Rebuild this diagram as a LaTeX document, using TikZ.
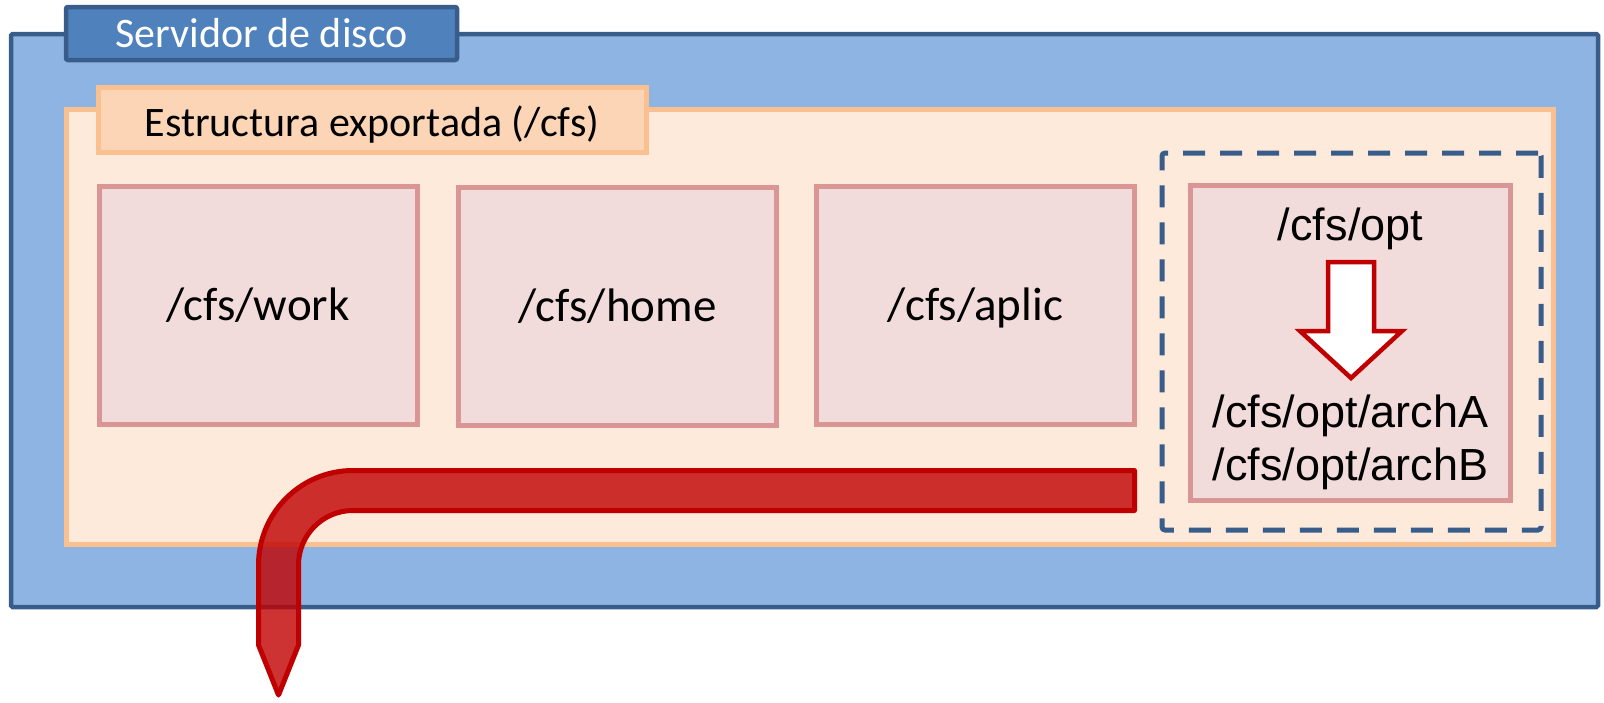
\documentclass[tikz,border=0pt]{standalone}
\usepackage{fontspec}
\newfontfamily\calfont{Carlito}
\newfontfamily\arialfont{Liberation Sans}
\definecolor{srvfill}{HTML}{8EB4E3}
\definecolor{srvline}{HTML}{385D8A}
\definecolor{srvtab}{HTML}{4F81BD}
\definecolor{expfill}{HTML}{FDEADA}
\definecolor{expline}{HTML}{FAC090}
\definecolor{exptab}{HTML}{FBD5B5}
\definecolor{dirfill}{HTML}{F2DCDB}
\definecolor{dirline}{HTML}{D99694}
\definecolor{arrred}{HTML}{C00000}

\begin{document}
\begin{tikzpicture}[x=1pt,y=-1pt,
  panel/.style={rectangle, inner sep=0pt, outer sep=0pt},
  dirbox/.style={panel, draw=dirline, fill=dirfill, line width=5pt,
    minimum width=318pt, minimum height=238pt},
  dirlabel/.style={anchor=base, inner sep=0pt, font=\calfont\fontsize{47}{56}\selectfont},
  optlabel/.style={anchor=base, inner sep=0pt, font=\arialfont\fontsize{45}{53}\selectfont},
  tablabel/.style={anchor=base, inner sep=0pt, font=\calfont\fontsize{42}{50}\selectfont}
]
\useasboundingbox (0,0) rectangle (1604,702);

% disk server frame and its title tab
\node[panel, draw=srvline, fill=srvfill, line width=4.5pt, rounded corners=1.5pt,
  minimum width=1587pt, minimum height=573pt] (server) at (804.5,320.5) {};
\node[panel, draw=srvline, fill=srvtab, line width=4.5pt, rounded corners=2pt,
  minimum width=391pt, minimum height=53pt] (servertab) at (261.5,33.5) {};
\node[tablabel, text=white] (servertitle) at (261.5,47) {Servidor de disco};

% exported tree and its title tab
\node[panel, draw=expline, fill=expfill, line width=5pt,
  minimum width=1487pt, minimum height=435pt] (export) at (809.5,326.5) {};
\node[panel, draw=expline, fill=exptab, line width=5pt,
  minimum width=548pt, minimum height=65pt] (exporttab) at (372,120) {};
\node[tablabel] (exporttitle) at (372,136.5) {Estructura exportada (/cfs)};

% exported directories
\node[dirbox] (work)  at (258,305.5) {};
\node[dirbox] (home)  at (617.5,306.5) {};
\node[dirbox] (aplic) at (975.5,305.5) {};
\node[dirlabel] (workT)  at (258,320) {/cfs/work};
\node[dirlabel] (homeT)  at (617.5,321) {/cfs/home};
\node[dirlabel] (aplicT) at (975.5,320) {/cfs/aplic};

% /cfs/opt group
\node[panel, draw=srvline, line width=5pt, dash pattern=on 22pt off 15pt,
  rounded corners=3pt, minimum width=379pt, minimum height=377pt] (optgroup) at (1351.5,341.5) {};
\node[dirbox, minimum width=320pt, minimum height=315pt] (opt) at (1350.5,343) {};
\node[optlabel] (optT)   at (1350.5,240) {/cfs/opt};
\node[optlabel] (archA)  at (1350.5,427) {/cfs/opt/archA};
\node[optlabel] (archB)  at (1350.5,480) {/cfs/opt/archB};

% block arrow from /cfs/opt down to the architecture directories
\draw[draw=arrred, fill=white, line width=4.5pt]
  (1328,262) -- (1374,262) -- (1374,331) -- (1402,331) -- (1351,378)
  -- (1300,331) -- (1328,331) -- cycle;

% exported path leaving the server
\draw[draw=arrred, fill=arrred, fill opacity=0.8, line width=5pt, line join=round]
  (1134.5,470.5) -- (353,470.5) arc[start angle=270, end angle=180, radius=94.5]
  -- (258.5,645) -- (278.5,695) -- (298.5,645) -- (298.5,565)
  arc[start angle=180, end angle=270, radius=54.5] -- (1134.5,510.5) -- cycle;
\end{tikzpicture}
\end{document}
